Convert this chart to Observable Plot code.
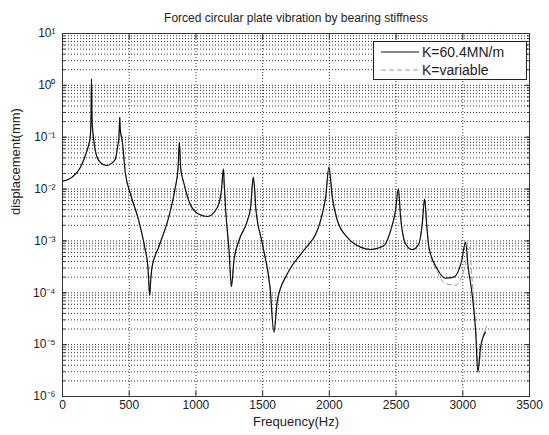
<!DOCTYPE html>
<html>
<head>
<meta charset="utf-8">
<script src="https://cdn.jsdelivr.net/npm/d3@7"></script>
<script src="https://cdn.jsdelivr.net/npm/@observablehq/plot@0.6"></script>
<style>
  html, body { margin: 0; padding: 0; background: #fff; }
  #wrap { position: relative; width: 549px; height: 435px; font-family: "Liberation Sans", Arial, sans-serif; }
  #legend { position: absolute; left: 373px; top: 41px; width: 152px; height: 37px; background: #fff; border: 1px solid #222; font-size: 14px; color: #222; }
  #legend .row { position: absolute; left: 0; height: 18px; display: flex; align-items: center; }
  #legend svg { margin-left: 7px; margin-right: 3px; }
</style>
</head>
<body>
<div id="wrap"></div>
<script>
// ---- data ----
const title = "Forced circular plate vibration by bearing stiffness";
const xLabel = "Frequency(Hz)";
const yLabel = "displacement(mm)";
const seriesNames = ["K=60.4MN/m", "K=variable"];

const xTicks = [0, 500, 1000, 1500, 2000, 2500, 3000, 3500];
const yTicks = [1e1, 1e0, 1e-1, 1e-2, 1e-3, 1e-4, 1e-5, 1e-6];

// K = 60.4 MN/m (solid)
const freqFixed = [0, 72, 135, 184, 200, 208, 214, 217, 222, 234, 259, 290, 334, 370, 397, 415, 422, 426, 429, 433, 447,
  472, 509, 571, 616, 640, 654, 660, 671, 721, 796, 846, 866, 876, 886, 911, 961, 1020, 1085, 1161, 1191,
  1206, 1212, 1223, 1248, 1266, 1285, 1323, 1386, 1410, 1430, 1440, 1448, 1498, 1555, 1585, 1610, 1685, 1785, 1860, 1885,
  1947, 1972, 1997, 2022, 2060, 2135, 2234, 2309, 2409, 2459, 2496, 2517, 2534, 2571, 2622, 2671, 2696, 2714, 2729, 2746,
  2809, 2870, 2933, 2990, 3021, 3040, 3071, 3096, 3113, 3133, 3170];
const dispFixed = [0.0142, 0.0170, 0.0264, 0.0555, 0.078, 0.100, 0.251, 1.34, 0.200, 0.089, 0.0412, 0.0316, 0.0285, 0.0316, 0.0383, 0.0708, 0.0933, 0.158, 0.244, 0.141, 0.0865,
  0.0197, 0.00813, 0.00248, 0.000759, 0.000316, 0.0000891, 0.000158, 0.000312, 0.000759, 0.00288, 0.01086, 0.0251, 0.0802, 0.0251, 0.0126, 0.00482, 0.00331, 0.00296, 0.00447, 0.00933,
  0.0246, 0.0126, 0.00389, 0.000661, 0.000132, 0.000420, 0.00102, 0.00248, 0.00447, 0.0170, 0.0100, 0.00447, 0.000881, 0.000129, 0.0000174, 0.0000708, 0.000232, 0.000550, 0.000955, 0.00117,
  0.00333, 0.00697, 0.0264, 0.00697, 0.00248, 0.00117, 0.000759, 0.000684, 0.000813, 0.00158, 0.00389, 0.0101, 0.00288, 0.000881, 0.000676, 0.000881, 0.00214, 0.00646, 0.00214, 0.000759,
  0.000288, 0.000191, 0.000200, 0.000398, 0.000946, 0.000316, 0.0000891, 0.0000186, 0.00000295, 0.00000891, 0.0000174];

// K = variable (dashed)
const freqVar = [0, 72, 135, 184, 200, 208, 214, 217, 222, 234, 259, 290, 334, 370, 397, 415, 422, 426, 429, 433, 447,
  472, 509, 571, 616, 640, 654, 660, 671, 721, 796, 846, 866, 876, 886, 911, 961, 1020, 1085, 1161, 1191,
  1206, 1212, 1223, 1248, 1266, 1285, 1323, 1386, 1410, 1430, 1440, 1448, 1498, 1555, 1585, 1610, 1685, 1785, 1860, 1885,
  1947, 1972, 1997, 2022, 2060, 2135, 2234, 2309, 2409, 2459, 2496, 2517, 2534, 2571, 2622, 2671, 2696, 2714, 2729, 2746,
  2809, 2870, 2950, 3010, 3053, 3065, 3085, 3100, 3120, 3140, 3180];
const dispVar = [0.0142, 0.0170, 0.0264, 0.0555, 0.078, 0.100, 0.251, 1.30, 0.200, 0.089, 0.0412, 0.0316, 0.0285, 0.0316, 0.0383, 0.0708, 0.0933, 0.158, 0.240, 0.141, 0.0865,
  0.0197, 0.00813, 0.00248, 0.000759, 0.000316, 0.0000891, 0.000158, 0.000312, 0.000759, 0.00288, 0.01086, 0.0251, 0.0790, 0.0251, 0.0126, 0.00482, 0.00331, 0.00296, 0.00447, 0.00933,
  0.0240, 0.0126, 0.00389, 0.000661, 0.000132, 0.000420, 0.00102, 0.00248, 0.00447, 0.0165, 0.0100, 0.00447, 0.000881, 0.000129, 0.0000174, 0.0000708, 0.000232, 0.000550, 0.000955, 0.00117,
  0.00333, 0.00697, 0.0260, 0.00697, 0.00248, 0.00117, 0.000759, 0.000684, 0.000813, 0.00158, 0.00389, 0.0100, 0.00288, 0.000881, 0.000676, 0.000881, 0.00214, 0.00640, 0.00214, 0.000759,
  0.000251, 0.000151, 0.000141, 0.000282, 0.000759, 0.000251, 0.0000631, 0.0000158, 0.00000398, 0.0000100, 0.0000224];

// ---- build ----
const fixedData = freqFixed.map((f, i) => ({f, d: dispFixed[i]}));
const varData = freqVar.map((f, i) => ({f, d: dispVar[i]}));

const sup = {"-": "\u207B", "0": "\u2070", "1": "\u00B9", "2": "\u00B2", "3": "\u00B3", "4": "\u2074", "5": "\u2075", "6": "\u2076", "7": "\u2077", "8": "\u2078", "9": "\u2079"};
const fmtPow = d => "10" + String(Math.round(Math.log10(d))).split("").map(c => sup[c]).join("");

const minorY = [];
for (let e = -6; e <= 0; e++) for (let k = 1; k <= 9; k++) minorY.push(k * Math.pow(10, e));
minorY.push(10);
const gridX = xTicks.filter(v => v > 0 && v < 3500);

const font = "Liberation Sans, Arial, sans-serif";

const chart = Plot.plot({
  width: 549,
  height: 435,
  marginLeft: 62,
  marginRight: 20,
  marginTop: 33,
  marginBottom: 39,
  style: {fontFamily: font, fontSize: "12px", color: "#222", background: "#fff"},
  x: {domain: [0, 3500]},
  y: {type: "log", domain: [1e-6, 1e1]},
  marks: [
    Plot.ruleY(minorY, {stroke: "#000", strokeOpacity: 0.8, strokeDasharray: "1,2"}),
    Plot.ruleX(gridX, {stroke: "#000", strokeOpacity: 0.8, strokeDasharray: "1,2"}),
    Plot.line(varData, {x: "f", y: "d", curve: "monotone-x", stroke: "#9a9a9a", strokeWidth: 1, strokeDasharray: "5,3"}),
    Plot.line(fixedData, {x: "f", y: "d", curve: "monotone-x", stroke: "#111", strokeWidth: 1.2}),
    Plot.frame({stroke: "#333", strokeWidth: 1}),
    // tick labels
    Plot.axisX({ticks: xTicks, tickSize: 0, tickPadding: 4, tickFormat: d => String(d), fontSize: 12, label: null}),
    Plot.axisY({ticks: yTicks, tickSize: 0, tickPadding: 7, tickFormat: fmtPow, fontSize: 12, label: null}),
    // inner tick marks
    Plot.axisX({anchor: "bottom", ticks: xTicks, tickSize: -5, tickFormat: () => "", label: null, stroke: "#333"}),
    Plot.axisX({anchor: "top", ticks: xTicks, tickSize: -5, tickFormat: () => "", label: null, stroke: "#333"}),
    Plot.axisY({anchor: "left", ticks: minorY, tickSize: -3, tickFormat: () => "", label: null, stroke: "#333"}),
    Plot.axisY({anchor: "right", ticks: minorY, tickSize: -3, tickFormat: () => "", label: null, stroke: "#333"}),
    Plot.axisY({anchor: "left", ticks: yTicks, tickSize: -5, tickFormat: () => "", label: null, stroke: "#333"}),
    Plot.axisY({anchor: "right", ticks: yTicks, tickSize: -5, tickFormat: () => "", label: null, stroke: "#333"}),
    // title and axis labels
    Plot.text([title], {frameAnchor: "top", dy: -20, fontSize: 12, fill: "#222"}),
    Plot.text([xLabel], {frameAnchor: "bottom", dy: 29, fontSize: 13, fill: "#222"}),
    Plot.text([yLabel], {frameAnchor: "left", dx: -47, rotate: -90, fontSize: 13, fill: "#222"})
  ]
});

const wrap = document.getElementById("wrap");
wrap.appendChild(chart);

const legend = document.createElement("div");
legend.id = "legend";
legend.innerHTML = `
  <div class="row" style="top:1px"><svg width="38" height="4"><line x1="0" y1="2" x2="38" y2="2" stroke="#111" stroke-width="1"/></svg><span>${seriesNames[0]}</span></div>
  <div class="row" style="top:19px"><svg width="38" height="4"><line x1="0" y1="2" x2="38" y2="2" stroke="#9a9a9a" stroke-width="1" stroke-dasharray="5,3"/></svg><span>${seriesNames[1]}</span></div>`;
wrap.appendChild(legend);
</script>
</body>
</html>
